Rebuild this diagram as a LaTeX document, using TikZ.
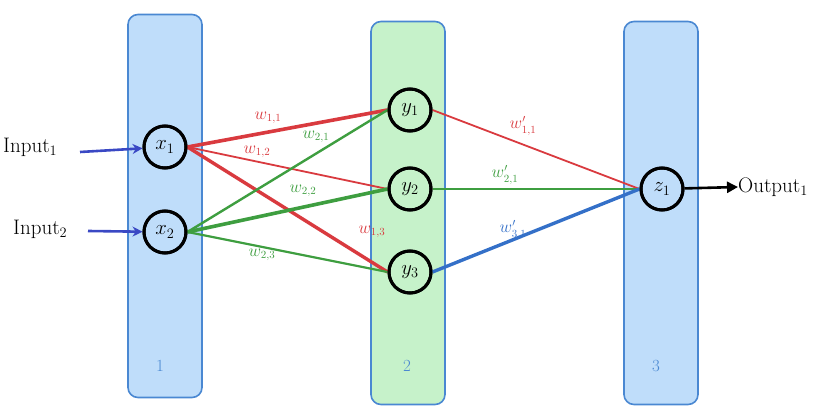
\documentclass[tikz,border=0pt]{standalone}
\usepackage{amsmath}
\usepackage{tikz}
\usetikzlibrary{arrows.meta}
\definecolor{layerblue}{HTML}{BFDDFA}
\definecolor{layergreen}{HTML}{C6F2CA}
\definecolor{edgeblue}{HTML}{4A88D2}
\definecolor{wred}{HTML}{D93A3F}
\definecolor{wgreen}{HTML}{3E9E40}
\definecolor{wblue}{HTML}{3470C8}
\definecolor{inblue}{HTML}{3A48C4}
\tikzset{
  layer/.style={draw=edgeblue,line width=1.6pt,rounded corners=10pt,minimum width=74pt,minimum height=383pt,inner sep=0pt},
  neuron/.style={circle,draw=black,line width=3pt,minimum size=42pt,inner sep=0pt,font=\fontsize{21}{24}\selectfont},
  wlab/.style={font=\fontsize{16}{18}\selectfont},
  laynum/.style={text=edgeblue,font=\fontsize{17}{20}\selectfont},
  iolab/.style={font=\fontsize{21}{24}\selectfont,anchor=west,inner sep=0pt}
}
\begin{document}
\begin{tikzpicture}[x=1pt,y=-1pt]
  \useasboundingbox (0,0) rectangle (834,414);
  % layers
  \node[layer,fill=layerblue] (col1) at (165,206) {};
  \node[layer,fill=layergreen] (col2) at (408,213) {};
  \node[layer,fill=layerblue] (col3) at (661,213) {};
  \node[laynum] (n1) at (160,366) {1};
  \node[laynum] (n2) at (407,366) {2};
  \node[laynum] (n3) at (656,366) {3};
  % neurons
  \node[neuron,fill=layerblue] (x1) at (165,147) {$x_1$};
  \node[neuron,fill=layerblue] (x2) at (165,232) {$x_2$};
  \node[neuron,fill=layergreen] (y1) at (410,110) {$y_1$};
  \node[neuron,fill=layergreen] (y2) at (410,189) {$y_2$};
  \node[neuron,fill=layergreen] (y3) at (410,272) {$y_3$};
  \node[neuron,fill=layerblue] (z1) at (662,189) {$z_1$};
  % inputs and output
  \node[iolab] (in1) at (3,147) {Input$_1$};
  \node[iolab] (in2) at (13,229) {Input$_2$};
  \node[iolab] (out1) at (738,187) {Output$_1$};
  \coordinate (a1) at (80,152);
  \coordinate (a2) at (88,231);
  \draw[-{Stealth[length=10pt,width=10pt]},inblue,line width=2.6pt] (a1) -- (x1);
  \draw[-{Stealth[length=10pt,width=10pt]},inblue,line width=2.6pt] (a2) -- (x2);
  \draw[-{Triangle[length=11pt,width=11pt]},black,line width=2.6pt] (z1) -- (out1.west);
  % weights, first layer
  \draw[wred,line width=3.6pt] (x1.east) -- (y1.west);
  \draw[wred,line width=1.8pt] (x1.east) -- (y2.west);
  \draw[wred,line width=3.4pt] (x1.east) -- (y3.west);
  \draw[wgreen,line width=2.4pt] (x2.east) -- (y1.west);
  \draw[wgreen,line width=3.6pt] (x2.east) -- (y2.west);
  \draw[wgreen,line width=2.2pt] (x2.east) -- (y3.west);
  % weights, second layer
  \draw[wred,line width=1.8pt] (y1.east) -- (z1.west);
  \draw[wgreen,line width=2.4pt] (y2.east) -- (z1.west);
  \draw[wblue,line width=3.4pt] (y3.east) -- (z1.west);
  % redraw neurons on top of the joints
  \foreach \nn in {x1,x2,y1,y2,y3,z1}
    \draw[black,line width=3pt] (\nn) circle (21pt);
  % weight labels
  \node[wlab,wred] (l11) at (268,118) {$w_{1,1}$};
  \node[wlab,wgreen] (l21) at (316,137) {$w_{2,1}$};
  \node[wlab,wred] (l12) at (257,152) {$w_{1,2}$};
  \node[wlab,wgreen] (l22) at (303,191) {$w_{2,2}$};
  \node[wlab,wred] (l13) at (372,232) {$w_{1,3}$};
  \node[wlab,wgreen] (l23) at (262,255) {$w_{2,3}$};
  \node[wlab,wred] (m11) at (523,126) {$w'_{1,1}$};
  \node[wlab,wgreen] (m21) at (505,175) {$w'_{2,1}$};
  \node[wlab,wblue] (m31) at (513,230) {$w'_{3,1}$};
\end{tikzpicture}
\end{document}
